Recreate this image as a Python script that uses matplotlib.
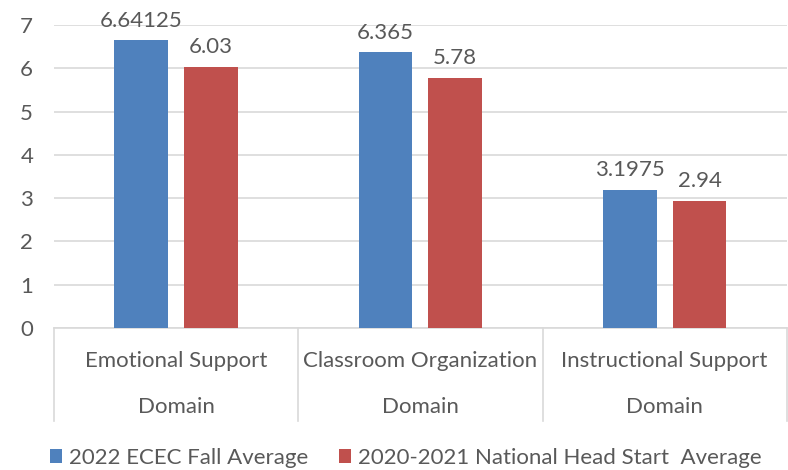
import numpy as np
import matplotlib.pyplot as plt
import matplotlib.transforms as mtransforms

categories = ['Emotional Support\nDomain', 'Classroom Organization\nDomain',
              'Instructional Support\nDomain']
ecec_2022 = [6.64125, 6.365, 3.1975]
head_start = [6.03, 5.78, 2.94]
value_labels_1 = ['6.64125', '6.365', '3.1975']
value_labels_2 = ['6.03', '5.78', '2.94']
series_names = ['2022 ECEC Fall Average', '2020-2021 National Head Start  Average']

blue = '#4f81bd'
red = '#c0504d'
txt = '#595959'
fs = 16
plt.rcParams['font.family'] = ['Lato', 'DejaVu Sans']

fig = plt.figure(figsize=(7.88, 4.70), dpi=100)
ax = fig.add_axes([0.0685, 0.302, 0.93, 0.645])

x = np.arange(len(categories))
w = 0.22
off = 0.143
b1 = ax.bar(x - off, ecec_2022, w, color=blue, label=series_names[0], zorder=3)
b2 = ax.bar(x + off, head_start, w, color=red, label=series_names[1], zorder=3)

# подписи значений над столбцами
for rect, lab in zip(b1, value_labels_1):
    ax.annotate(lab, (rect.get_x() + rect.get_width() / 2, rect.get_height()),
                xytext=(0, 7), textcoords='offset points', ha='center', va='bottom',
                fontsize=fs, color=txt)
for rect, lab in zip(b2, value_labels_2):
    ax.annotate(lab, (rect.get_x() + rect.get_width() / 2, rect.get_height()),
                xytext=(0, 7), textcoords='offset points', ha='center', va='bottom',
                fontsize=fs, color=txt)

ax.set_xlim(-0.5, 2.5)
ax.set_ylim(0, 7)
ax.set_yticks(range(8))
ax.tick_params(axis='y', length=0, labelsize=fs, labelcolor=txt, pad=15)
ax.set_xticks([])
ax.yaxis.grid(True, color='#d9d9d9', linewidth=1.2, zorder=0)
for s in ['left', 'right', 'top']:
    ax.spines[s].set_visible(False)
ax.spines['bottom'].set_color('#d9d9d9')
ax.spines['bottom'].set_linewidth(1.2)

# подписи категорий и разделители как в Excel
trans = mtransforms.blended_transform_factory(ax.transData, ax.transAxes)
for xi, cat in zip(x, categories):
    top, bottom = cat.split('\n')
    ax.text(xi, -0.128, top, transform=trans, ha='center', va='baseline',
            fontsize=fs, color=txt)
    ax.text(xi, -0.28, bottom, transform=trans, ha='center', va='baseline',
            fontsize=fs, color=txt)
for xb in [-0.5, 0.5, 1.5, 2.5]:
    ax.plot([xb, xb], [0, -0.307], transform=trans, color='#d9d9d9',
            linewidth=1.2, clip_on=False)

fig.legend(handles=[b1, b2], loc='center', bbox_to_anchor=(0.515, 0.026), ncol=2,
           frameon=False, fontsize=fs, labelcolor=txt, handlelength=0.55,
           handleheight=0.55, handletextpad=0.3, columnspacing=1.4)

fig.savefig('out.png', dpi=100)
